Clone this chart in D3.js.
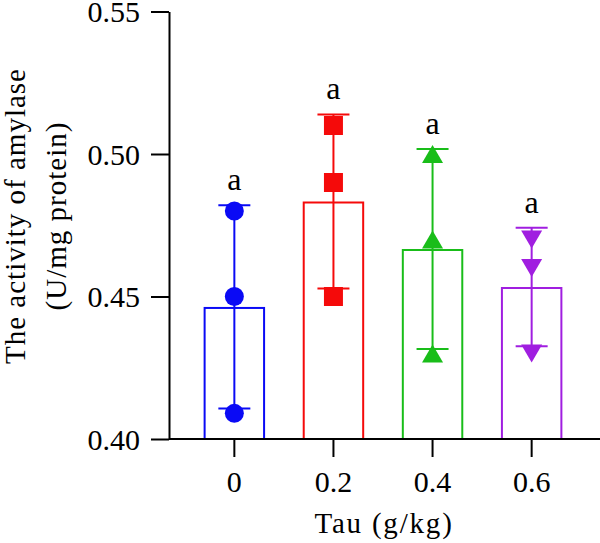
<!DOCTYPE html>
<html lang="en">
<head>
<script src="https://d3js.org/d3.v7.min.js"></script>
<style>
  body { margin: 0; background: #fff; }
  svg text { font-family: "Liberation Serif", "Times New Roman", serif; fill: #000; }
  .axis path, .axis line { stroke: #000; stroke-width: 2px; }
</style>
</head>
<body>
<svg id="chart" width="600" height="543"></svg>
<script>
// data: three replicates per Tau level
const groups = ["0", "0.2", "0.4", "0.6"];
const tau0 = [0.480, 0.450, 0.409];
const tau02 = [0.510, 0.490, 0.450];
const tau04 = [0.500, 0.470, 0.430];
const tau06 = [0.470, 0.460, 0.430];
const letters = ["a", "a", "a", "a"];
const yTicks = [0.40, 0.45, 0.50, 0.55];

const colors = ["#0a0af5", "#f50a0a", "#19bd19", "#a01ee0"];
const shapes = ["circle", "square", "triUp", "triDown"];

const reps = [tau0, tau02, tau04, tau06];
const data = groups.map((g, i) => ({
  group: g,
  values: reps[i],
  mean: d3.mean(reps[i]),
  sd: d3.deviation(reps[i]),
  letter: letters[i],
  color: colors[i],
  shape: shapes[i]
}));

const svg = d3.select("#chart");
const x0 = 169, yBase = 439, yTop = 11.5;

const x = d3.scaleBand().domain(groups).range([184.8, 581.2])
  .paddingInner(0.4).paddingOuter(0.2);
const y = d3.scaleLinear().domain([0.40, 0.55]).range([yBase, yTop]);

// bars
const g = svg.selectAll("g.grp").data(data).join("g").attr("class", "grp");

g.append("rect")
  .attr("x", d => x(d.group))
  .attr("y", d => y(d.mean) + 1)
  .attr("width", x.bandwidth())
  .attr("height", d => yBase - y(d.mean) - 1)
  .attr("fill", "none")
  .attr("stroke", d => d.color)
  .attr("stroke-width", 2);

// error bars (mean ± SD)
const cx = d => x(d.group) + x.bandwidth() / 2;
g.append("line")
  .attr("x1", cx).attr("x2", cx)
  .attr("y1", d => y(d.mean - d.sd)).attr("y2", d => y(d.mean + d.sd))
  .attr("stroke", d => d.color).attr("stroke-width", 2);
[1, -1].forEach(s => {
  g.append("line")
    .attr("x1", d => cx(d) - 16).attr("x2", d => cx(d) + 16)
    .attr("y1", d => y(d.mean + s * d.sd)).attr("y2", d => y(d.mean + s * d.sd))
    .attr("stroke", d => d.color).attr("stroke-width", 2);
});

// replicate points
function shapePath(shape) {
  if (shape === "circle") return d3.symbol(d3.symbolCircle, Math.PI * 9.5 * 9.5)();
  if (shape === "square") return "M-9.5,-9.5H9.5V9.5H-9.5Z";
  if (shape === "triUp") return "M0,-9L10.5,9H-10.5Z";
  return "M0,9L10.5,-9H-10.5Z";
}
g.each(function(d) {
  d3.select(this).selectAll("path.pt").data(d.values).join("path")
    .attr("class", "pt")
    .attr("d", shapePath(d.shape))
    .attr("transform", v => `translate(${cx(d)},${y(v)})`)
    .attr("fill", d.color);
});

// significance letters
g.append("text")
  .attr("x", cx)
  .attr("y", d => y(d.mean + d.sd) - 15)
  .attr("text-anchor", "middle")
  .attr("font-size", 32)
  .text(d => d.letter);

// axes
const yAxis = svg.append("g").attr("class", "axis")
  .attr("transform", `translate(${x0},0)`)
  .call(d3.axisLeft(y).tickValues(yTicks).tickFormat(d3.format(".2f"))
    .tickSize(18).tickSizeOuter(0).tickPadding(11));
yAxis.selectAll("text").attr("font-size", 30).attr("dy", "0.34em");

const xAxis = svg.append("g").attr("class", "axis")
  .attr("transform", `translate(0,${yBase})`)
  .call(d3.axisBottom(x).tickSize(18).tickSizeOuter(0).tickPadding(14));
xAxis.select(".domain").attr("d", `M${x0},0H600`);
xAxis.selectAll("text").attr("font-size", 30);

// axis titles
svg.append("text")
  .attr("x", 384).attr("y", 533)
  .attr("text-anchor", "middle")
  .attr("font-size", 29).attr("letter-spacing", 1.8)
  .text("Tau (g/kg)");

const yt = svg.append("text")
  .attr("transform", "translate(0,216) rotate(-90)")
  .attr("text-anchor", "middle")
  .attr("font-size", 29).attr("letter-spacing", 1);
yt.append("tspan").attr("x", 0).attr("y", 25).text("The activity of amylase");
yt.append("tspan").attr("x", 0).attr("y", 66).text("(U/mg protein)");
</script>
</body>
</html>
